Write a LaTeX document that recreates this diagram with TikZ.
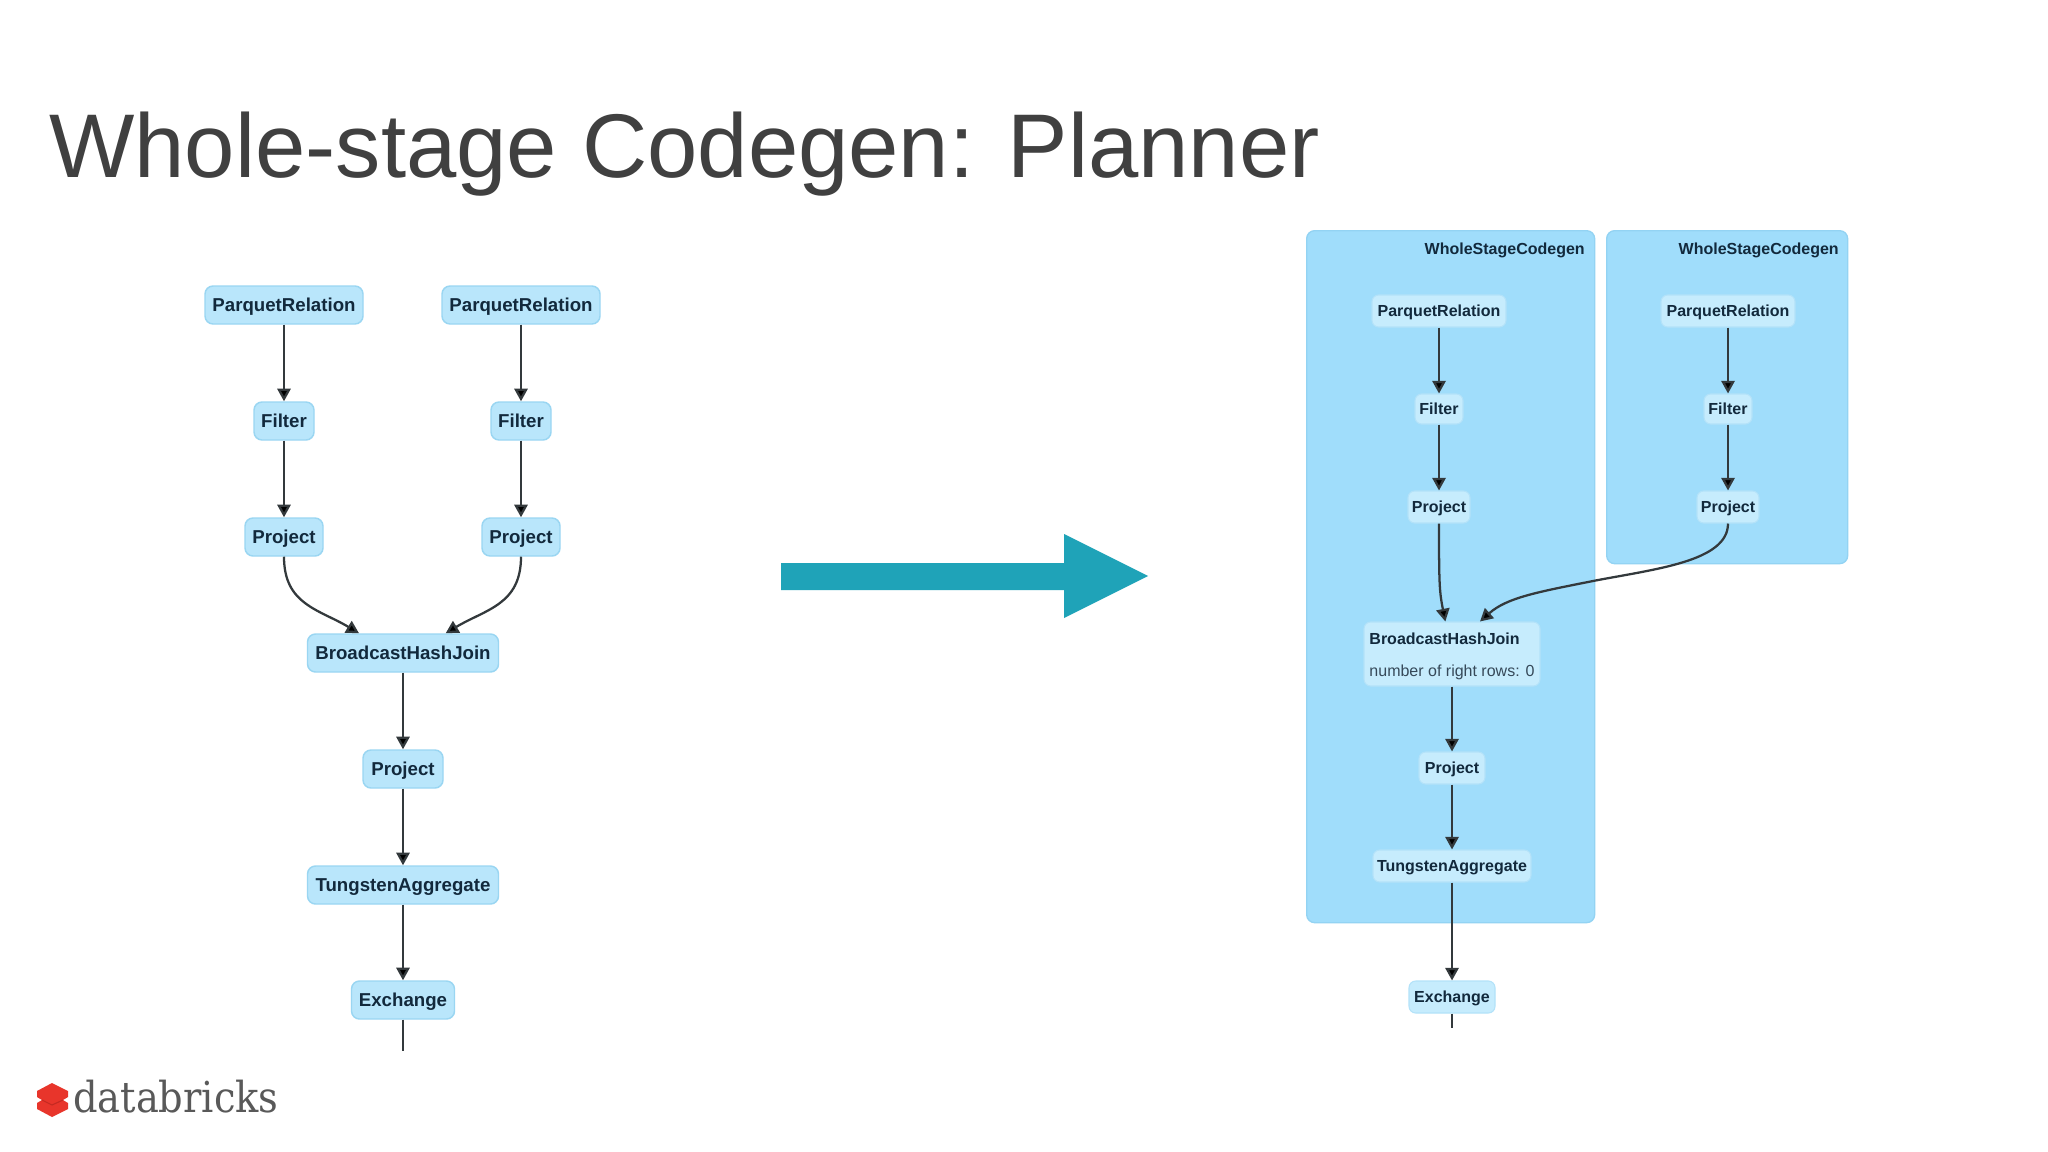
\documentclass[tikz,border=0pt]{standalone}
\usepackage{fontspec}
\setmainfont{Liberation Sans}
\newfontfamily\logofont{DejaVu Serif Condensed}
\usetikzlibrary{arrows.meta}
\definecolor{nodefill}{HTML}{B9E6FB}
\definecolor{nodeline}{HTML}{9AD6F2}
\definecolor{innerfill}{HTML}{C6ECFD}
\definecolor{innerline}{HTML}{B3E2F9}
\definecolor{groupfill}{HTML}{A0DDFB}
\definecolor{groupline}{HTML}{93D3F3}
\definecolor{inktext}{HTML}{12293C}
\definecolor{edgeink}{HTML}{33393C}
\definecolor{bigarrow}{HTML}{1FA3B8}
\definecolor{titleink}{HTML}{404040}
\definecolor{logored}{HTML}{E8352B}
\definecolor{logoseam}{HTML}{C42A22}
\definecolor{logogray}{HTML}{595959}
\tikzset{
  x=0.75pt,y=-0.75pt,
  size/.style 2 args={minimum width=#1*0.75pt,minimum height=#2*0.75pt},
  opleft/.style={draw=nodeline,fill=nodefill,line width=1.1pt,rounded corners=6pt,inner sep=0pt,
     text=inktext,text height=11pt,text depth=1pt,font=\fontsize{14}{16}\bfseries\selectfont},
  opright/.style={draw=innerline,fill=innerfill,line width=0.8pt,rounded corners=5pt,inner sep=0pt,
     text=inktext,text height=9.5pt,text depth=0.8pt,font=\fontsize{12}{14}\bfseries\selectfont},
  groupbox/.style={draw=groupline,fill=groupfill,line width=1pt,rounded corners=6pt,inner sep=0pt,anchor=north west},
  grouplabel/.style={anchor=east,inner sep=0pt,text=inktext,text height=9.5pt,text depth=0.8pt,font=\fontsize{12}{14}\bfseries\selectfont},
  flow/.style={draw=edgeink,line width=1.7pt,-{Triangle[length=9.5pt,width=10pt,fill=black]}},
  stub/.style={draw=edgeink,line width=1.7pt},
}
\begin{document}
\begin{tikzpicture}
\useasboundingbox (0,0) rectangle (2048,1152);
\fill[white] (0,0) rectangle (2048,1152);
% title
\node[anchor=base west,inner sep=0pt,text=titleink,font=\fontsize{67.85}{80}\selectfont] (title) at (49,177) {Whole-stage Codegen: Planner};
% left plan
\node[opleft,size={158}{38}] (lpr1) at (284,305) {ParquetRelation};
\node[opleft,size={158}{38}] (lpr2) at (521,305) {ParquetRelation};
\node[opleft,size={60}{38}] (lf1) at (284,421) {Filter};
\node[opleft,size={60}{38}] (lf2) at (521,421) {Filter};
\node[opleft,size={78}{38}] (lp1) at (284,537) {Project};
\node[opleft,size={78}{38}] (lp2) at (521,537) {Project};
\node[opleft,size={191}{38}] (lb) at (403,653) {BroadcastHashJoin};
\node[opleft,size={80}{38}] (lp3) at (403,769) {Project};
\node[opleft,size={191}{38}] (lt) at (403,885) {TungstenAggregate};
\node[opleft,size={103}{38}] (le) at (403,1000) {Exchange};
\coordinate (lend) at (403,1051);
\draw[flow] (lpr1) -- (lf1);
\draw[flow] (lpr2) -- (lf2);
\draw[flow] (lf1) -- (lp1);
\draw[flow] (lf2) -- (lp2);
\draw[flow] (lp1.south) .. controls +(0,48) and +(-40,-24) .. ([xshift=-33pt]lb.north);
\draw[flow] (lp2.south) .. controls +(0,48) and +(40,-24) .. ([xshift=32pt]lb.north);
\draw[flow] (lb) -- (lp3);
\draw[flow] (lp3) -- (lt);
\draw[flow] (lt) -- (le);
\draw[stub] (le.south) -- (lend);
% big arrow
\fill[bigarrow] (781,563) -- (1064,563) -- (1064,534) -- (1148,576) -- (1064,618) -- (1064,590) -- (781,590) -- cycle;
% right plan: groups
\node[groupbox,size={288}{692}] (g1) at (1306,230) {};
\node[groupbox,size={241}{333}] (g2) at (1606,230) {};
\node[grouplabel] (g1l) at (1585,249) {WholeStageCodegen};
\node[grouplabel] (g2l) at (1839,249) {WholeStageCodegen};
% right plan: nodes
\node[opright,size={134}{32}] (rpr1) at (1439,311) {ParquetRelation};
\node[opright,size={134}{32}] (rpr2) at (1728,311) {ParquetRelation};
\node[opright,size={48}{30}] (rf1) at (1439,409) {Filter};
\node[opright,size={48}{30}] (rf2) at (1728,409) {Filter};
\node[opright,size={62}{32}] (rp1) at (1439,507) {Project};
\node[opright,size={62}{32}] (rp2) at (1728,507) {Project};
\node[opright,size={176}{64},align=left,text height=,text depth=,font=\fontsize{12}{23.5}\selectfont] (rb) at (1452,654)
  {\rule{0pt}{12pt}\textbf{BroadcastHashJoin}\\\color{inktext!85}number of right rows: 0};
\node[opright,size={66}{32}] (rp3) at (1452,768) {Project};
\node[opright,size={158}{32}] (rt) at (1452,866) {TungstenAggregate};
\node[opright,size={86}{32}] (re) at (1452,997) {Exchange};
\coordinate (rend) at (1452,1028);
\draw[flow] (rpr1) -- (rf1);
\draw[flow] (rpr2) -- (rf2);
\draw[flow] (rf1) -- (rp1);
\draw[flow] (rf2) -- (rp2);
\draw[flow] (rp1.south) .. controls +(0,60) and +(-6,-30) .. ([xshift=-5pt]rb.north);
\coordinate (rbend) at (1593,581);
\draw[flow] (rp2.south) .. controls +(0,38) and +(62,-12) .. (rbend)
   .. controls +(-55,11) and +(27,-24) .. ([xshift=21pt]rb.north);
\draw[flow] (rb) -- (rp3);
\draw[flow] (rp3) -- (rt);
\draw[flow] (rt) -- (re);
\draw[stub] (re.south) -- (rend);
% logo
\fill[logored] (52,1083) -- (68,1091) -- (68,1097) -- (63,1100) -- (68,1103) -- (68,1109) -- (52,1117) -- (37,1109) -- (37,1103) -- (42,1100) -- (37,1097) -- (37,1091) -- cycle;
\draw[logoseam,line width=0.8pt] (42,1100) -- (52,1105) -- (63,1100);
\node[anchor=base west,inner sep=0pt,text=logogray,font=\logofont\fontsize{32}{35}\selectfont] (logo) at (73,1112) {databricks};
\end{tikzpicture}
\end{document}
